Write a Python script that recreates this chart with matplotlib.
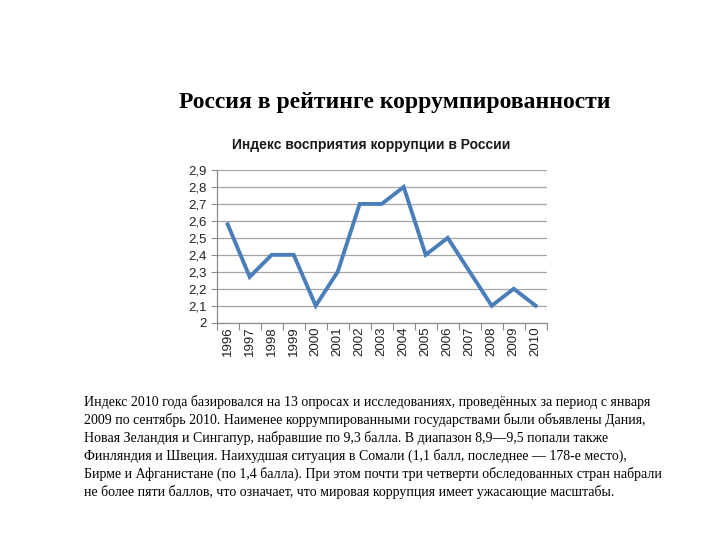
import matplotlib
matplotlib.use('Agg')
import matplotlib.pyplot as plt
import numpy as np

years = ['1996', '1997', '1998', '1999', '2000', '2001', '2002', '2003',
         '2004', '2005', '2006', '2007', '2008', '2009', '2010']
cpi = [2.58, 2.27, 2.4, 2.4, 2.1, 2.3, 2.7, 2.7, 2.8, 2.4, 2.5, 2.3, 2.1, 2.2, 2.1]
yticks = [2.0, 2.1, 2.2, 2.3, 2.4, 2.5, 2.6, 2.7, 2.8, 2.9]

slide_title = 'Россия в рейтинге коррумпированности'
chart_title = 'Индекс восприятия коррупции в России'
paragraph = [
    'Индекс 2010 года базировался на 13 опросах и исследованиях, проведённых за период с января',
    '2009 по сентябрь 2010. Наименее коррумпированными государствами были объявлены Дания,',
    'Новая Зеландия и Сингапур, набравшие по 9,3 балла. В диапазон 8,9—9,5 попали также',
    'Финляндия и Швеция. Наихудшая ситуация в Сомали (1,1 балл, последнее — 178-е место),',
    'Бирме и Афганистане (по 1,4 балла). При этом почти три четверти обследованных стран набрали',
    'не более пяти баллов, что означает, что мировая коррупция имеет ужасающие масштабы.',
]

W, H = 720, 540
fig = plt.figure(figsize=(7.2, 5.4), dpi=100)

def fx(px):
    return px / W

def fy(py):
    return 1 - py / H

fig.text(fx(395), fy(108.3), slide_title, family='Liberation Serif',
         weight='bold', fontsize=17, ha='center', va='baseline')

ax = fig.add_axes([fx(216.7), fy(322.7), fx(546.7) - fx(216.7), fy(170) - fy(322.7)])
x = np.arange(len(years))
ax.plot(x, cpi, color='#4A7EBB', lw=2.8, solid_joinstyle='miter')
ax.set_xlim(-0.5, len(years) - 0.5)
ax.set_ylim(2.0, 2.9)
ax.set_yticks(yticks)
ax.set_yticklabels([('%g' % v).replace('.', ',') for v in yticks],
                   family='Liberation Sans', fontsize=9.5, color='#222222')
ax.set_xticks(x)
ax.set_xticklabels(years, rotation=90, family='Liberation Sans', fontsize=9.5,
                   color='#222222')
ax.set_xticks(np.arange(-0.5, len(years)), minor=True)
ax.tick_params(axis='x', which='major', length=0, pad=3)
ax.tick_params(axis='x', which='minor', length=5, color='#8c8c8c', width=0.8)
ax.tick_params(axis='y', length=4, color='#8c8c8c', width=0.8, pad=3)
ax.grid(axis='y', color='#a6a6a6', lw=0.9)
ax.set_axisbelow(True)
for s in ['top', 'right']:
    ax.spines[s].set_visible(False)
for s in ['left', 'bottom']:
    ax.spines[s].set_color('#8c8c8c')
    ax.spines[s].set_linewidth(0.9)

fig.text(fx(371), fy(145), chart_title, family='Liberation Sans',
         weight='bold', fontsize=10, ha='center', va='center', color='#1a1a1a')

for i, line in enumerate(paragraph):
    fig.text(fx(84), fy(405.7 + i * 18.1), line, family='Liberation Serif',
             fontsize=10, ha='left', va='baseline')

fig.savefig('out.png', dpi=100, facecolor='white')
